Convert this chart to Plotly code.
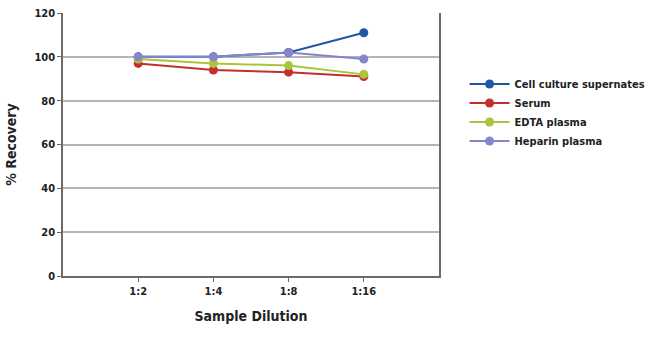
import plotly.graph_objects as go

categories = ["1:2", "1:4", "1:8", "1:16"]
series_names = ["Cell culture supernates", "Serum", "EDTA plasma", "Heparin plasma"]
cell_culture = [100, 100, 102, 111]
serum = [97, 94, 93, 91]
edta = [99, 97, 96, 92]
heparin = [100, 100, 102, 99]
y_ticks = [0, 20, 40, 60, 80, 100, 120]

colors = ["#1f57a4", "#c3302b", "#a9c53b", "#8585cc"]
values = [cell_culture, serum, edta, heparin]

FONT = "DejaVu Sans Condensed, Liberation Sans Narrow, sans-serif"

fig = go.Figure()
for name, vals, col in zip(series_names, values, colors):
    fig.add_trace(go.Scatter(
        x=list(range(len(categories))), y=vals, name=name, mode="lines+markers",
        line=dict(color=col, width=2), marker=dict(color=col, size=9),
    ))

fig.update_layout(
    width=650, height=341,
    margin=dict(l=63, r=211, t=13, b=65, autoexpand=False),
    paper_bgcolor="white", plot_bgcolor="white",
    font=dict(family=FONT, size=11, color="#222", weight="bold"),
    showlegend=True,
    legend=dict(x=1.068, y=0.785, xanchor="left", yanchor="top", itemwidth=40,
                font=dict(family=FONT, size=11, color="#222", weight="bold"),
                bgcolor="rgba(0,0,0,0)"),
    xaxis=dict(
        tickmode="array", tickvals=list(range(len(categories))), ticktext=categories,
        range=[-1, 4], showgrid=False, zeroline=False,
        showline=True, linecolor="#6b6b6b", linewidth=1.5,
        ticks="outside", ticklen=4, tickcolor="#6b6b6b",
        tickfont=dict(size=11),
        title=dict(text="Sample Dilution", font=dict(size=14), standoff=14),
    ),
    yaxis=dict(
        range=[0, 120], tickvals=y_ticks, showgrid=True, gridcolor="#b5b5b5", gridwidth=1.5,
        zeroline=False, showline=True, mirror=True, linecolor="#6b6b6b", linewidth=1.5,
        ticks="outside", ticklen=4, tickcolor="#6b6b6b",
        tickfont=dict(size=11),
        title=dict(text="% Recovery", font=dict(size=14), standoff=14),
    ),
)

fig.write_html("out.html")
